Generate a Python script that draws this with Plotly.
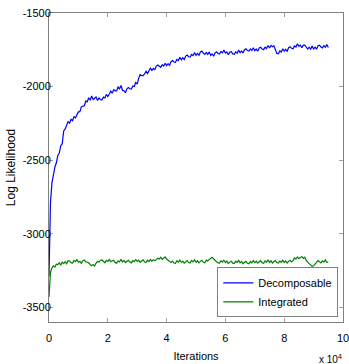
import plotly.graph_objects as go

step = 500  # sampling interval in iterations

decomposable = [
    -3290, -2790, -2655, -2598, -2548, -2518, -2468, -2452, -2402, -2388,
    -2302, -2288, -2262, -2238, -2248, -2222, -2232, -2205, -2212, -2190,
    -2172, -2171, -2138, -2132, -2131, -2098, -2104, -2076, -2093, -2064,
    -2088, -2079, -2071, -2094, -2077, -2088, -2091, -2072, -2077, -2053,
    -2068, -2050, -2031, -2045, -2021, -2029, -2029, -2003, -2015, -1992,
    -2026, -2028, -2042, -2015, -2007, -2015, -2017, -1996, -2000, -1972,
    -1983, -1944, -1919, -1925, -1925, -1914, -1896, -1912, -1888, -1875,
    -1890, -1876, -1886, -1861, -1854, -1865, -1869, -1852, -1861, -1841,
    -1858, -1844, -1856, -1831, -1823, -1833, -1835, -1816, -1823, -1801,
    -1818, -1804, -1816, -1793, -1786, -1797, -1800, -1782, -1790, -1769,
    -1788, -1775, -1788, -1765, -1759, -1773, -1781, -1768, -1781, -1765,
    -1788, -1778, -1794, -1771, -1764, -1775, -1779, -1762, -1771, -1752,
    -1773, -1765, -1784, -1765, -1763, -1778, -1781, -1764, -1773, -1752,
    -1770, -1758, -1772, -1749, -1743, -1755, -1759, -1744, -1755, -1736,
    -1756, -1745, -1760, -1738, -1733, -1745, -1749, -1732, -1741, -1721,
    -1738, -1720, -1729, -1723, -1749, -1775, -1777, -1758, -1765, -1743,
    -1760, -1747, -1760, -1736, -1729, -1740, -1743, -1724, -1731, -1709,
    -1726, -1718, -1736, -1719, -1719, -1736, -1745, -1732, -1745, -1725,
    -1744, -1732, -1746, -1723, -1719, -1732, -1737, -1722, -1732, -1714,
    -1734,
]

integrated = [
    -3430, -3265, -3232, -3218, -3226, -3207, -3210, -3198, -3214, -3193,
    -3203, -3190, -3204, -3183, -3185, -3197, -3199, -3181, -3190, -3176,
    -3194, -3188, -3201, -3183, -3178, -3190, -3194, -3198, -3209, -3218,
    -3210, -3220, -3200, -3189, -3193, -3180, -3178, -3191, -3197, -3181,
    -3188, -3175, -3190, -3184, -3182, -3195, -3200, -3185, -3191, -3174,
    -3192, -3181, -3196, -3187, -3180, -3193, -3198, -3183, -3190, -3176,
    -3188, -3179, -3194, -3185, -3178, -3191, -3196, -3180, -3189, -3175,
    -3186, -3177, -3184, -3176, -3166, -3172, -3160, -3175, -3168, -3158,
    -3172, -3178, -3190, -3195, -3186, -3199, -3201, -3184, -3193, -3179,
    -3195, -3186, -3200, -3190, -3183, -3196, -3199, -3182, -3191, -3177,
    -3194, -3184, -3198, -3188, -3181, -3194, -3197, -3180, -3186, -3175,
    -3168, -3160, -3172, -3185, -3190, -3198, -3200, -3184, -3193, -3180,
    -3196, -3186, -3203, -3193, -3187, -3200, -3203, -3187, -3195, -3181,
    -3198, -3189, -3204, -3194, -3188, -3201, -3205, -3189, -3198, -3183,
    -3196, -3186, -3200, -3191, -3184, -3197, -3201, -3185, -3193, -3179,
    -3195, -3184, -3199, -3189, -3182, -3196, -3200, -3186, -3194, -3180,
    -3196, -3185, -3199, -3188, -3181, -3192, -3183, -3165, -3172, -3158,
    -3170, -3162, -3156, -3168, -3160, -3182, -3195, -3203, -3212, -3222,
    -3218, -3205, -3196, -3183, -3190, -3198, -3184, -3193, -3178, -3195,
    -3192,
]

x_tick_vals = [0, 20000, 40000, 60000, 80000, 100000]
x_tick_text = ["0", "2", "4", "6", "8", "10"]
y_tick_vals = [-3500, -3000, -2500, -2000, -1500]
y_tick_text = ["-3500", "-3000", "-2500", "-2000", "-1500"]

iters_dec = [i * step for i in range(len(decomposable))]
iters_int = [i * step for i in range(len(integrated))]

FONT = "Liberation Sans, Arial, sans-serif"

fig = go.Figure()
fig.add_trace(go.Scatter(x=iters_dec, y=decomposable, mode="lines",
                         name="Decomposable", line=dict(color="#0000ff", width=1.2)))
fig.add_trace(go.Scatter(x=iters_int, y=integrated, mode="lines",
                         name="Integrated", line=dict(color="#008000", width=1.2)))

axis_common = dict(showline=True, linecolor="#808080", linewidth=1, mirror="ticks",
                   ticks="inside", ticklen=4, tickcolor="#a0a0a0", showgrid=False,
                   zeroline=False, automargin=False, ticklabeloverflow="allow",
                   tickfont=dict(family=FONT, size=11, color="black"))

fig.update_layout(
    width=349, height=364,
    margin=dict(l=49, r=6, t=13, b=42),
    paper_bgcolor="white", plot_bgcolor="white",
    font=dict(family=FONT, size=11, color="black"),
    xaxis=dict(range=[0, 100000], tickvals=x_tick_vals, ticktext=x_tick_text,
               ticklabelstandoff=6,
               title=dict(text="Iterations", font=dict(family=FONT, size=11), standoff=9),
               **axis_common),
    yaxis=dict(range=[-3600, -1500], tickvals=y_tick_vals, ticktext=y_tick_text,
               ticklabelstandoff=-5,
               title=dict(text="Log Likelihood", font=dict(family=FONT, size=12), standoff=4),
               **axis_common),
    legend=dict(x=0.984, y=0.015, xanchor="right", yanchor="bottom",
                bordercolor="#808080", borderwidth=1, bgcolor="white",
                font=dict(family=FONT, size=11), itemwidth=30, tracegroupgap=0),
    showlegend=True,
    annotations=[dict(text="x 10<sup>4</sup>", xref="paper", yref="paper",
                      x=1.005, y=-0.095, xanchor="right", yanchor="top", showarrow=False,
                      font=dict(family=FONT, size=10))],
)

fig.write_html("out.html", config={"displayModeBar": False},
               post_script="document.body.style.margin='0';")
